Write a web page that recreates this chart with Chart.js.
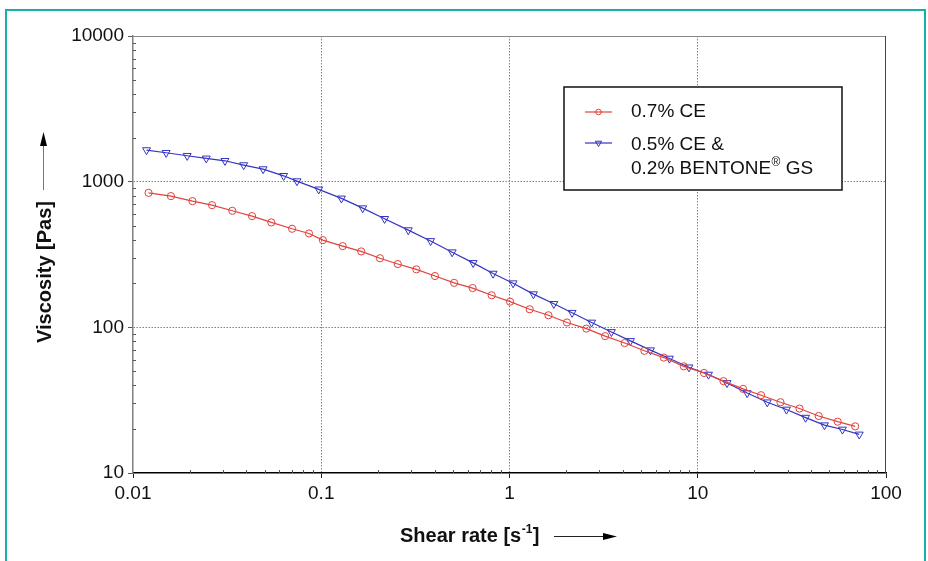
<!DOCTYPE html>
<html><head><meta charset="utf-8">
<script src="https://cdn.jsdelivr.net/npm/chart.js@4/dist/chart.umd.min.js"></script>
<style>
html,body{margin:0;padding:0;background:#fff;}
#wrap{position:relative;width:928px;height:561px;overflow:hidden;}
#frame{position:absolute;left:5px;top:9px;width:921px;height:580px;box-sizing:border-box;border:2.5px solid #16b0a5;pointer-events:none;}
canvas{position:absolute;left:0;top:0;}
</style></head><body>
<div id="wrap"><canvas id="c" width="928" height="561"></canvas><div id="frame"></div></div>
<script>
const FONT = "'Liberation Sans', Arial, Helvetica, sans-serif";

const seriesNames = ["0.7% CE", "0.5% CE &", "0.2% BENTONE", "®", " GS"];
const xTitle = ["Shear rate [s", "-1", "]"];
const yTitle = "Viscosity [Pas]";

const xTicks = [0.01, 0.1, 1, 10, 100];
const yTicks = [10, 100, 1000, 10000];

const shearRed = [0.0121,0.0159,0.0207,0.0263,0.0337,0.0429,0.0543,0.0700,0.0861,0.102,0.130,0.163,0.205,0.255,0.320,0.402,0.508,0.637,0.804,1.007,1.28,1.61,2.02,2.56,3.22,4.09,5.21,6.60,8.43,10.8,13.7,17.4,21.7,27.5,34.7,43.9,55.4,68.6];
const viscRed = [838,796,735,690,631,580,525,475,441,397,361,332,298,272,250,225,202,186,166,150,133,121,108,98,87,78,69,62,54,48.6,42.7,37.8,34.2,30.6,27.7,24.6,22.5,20.9];

const shearBlue = [0.0118,0.0150,0.0194,0.0245,0.0308,0.0387,0.0491,0.0631,0.0743,0.0969,0.128,0.166,0.217,0.290,0.381,0.496,0.641,0.818,1.045,1.34,1.72,2.15,2.73,3.48,4.39,5.61,7.07,8.98,11.4,14.3,18.3,23.4,29.6,37.4,47.1,58.7,72.1];
const viscBlue = [1648,1579,1506,1445,1391,1300,1220,1097,1009,886,768,658,556,465,392,328,277,234,201,169,145,126,108,93,80.7,69.7,61.1,53.2,47.4,41.5,35.4,30.6,27.3,24.0,21.3,19.9,18.4];

const RED = '#e3423c';
const BLUE = '#3434c2';

function pts(xs, ys){ return xs.map((x,i)=>({x:x, y:ys[i]})); }

function drawMarker(ctx, style, x, y, r, color){
  ctx.save();
  ctx.strokeStyle = color; ctx.lineWidth = 1;
  ctx.beginPath();
  if (style === 'circle') {
    ctx.arc(x, y, r, 0, Math.PI*2);
  } else {
    for (let i=0;i<3;i++){
      const a = Math.PI + i*2*Math.PI/3;
      const px = x + Math.sin(a)*r, py = y - Math.cos(a)*r;
      if (i===0) ctx.moveTo(px,py); else ctx.lineTo(px,py);
    }
    ctx.closePath();
  }
  ctx.stroke();
  ctx.restore();
}

const decorPlugin = {
  id: 'decor',
  beforeDraw(chart){
    const ctx = chart.ctx;
    ctx.save(); ctx.fillStyle = '#fff'; ctx.fillRect(0,0,chart.width,chart.height); ctx.restore();
  },
  afterDraw(chart){
    const ctx = chart.ctx;
    const a = chart.chartArea;
    const xs = chart.scales.x, ys = chart.scales.y;
    ctx.save();
    ctx.lineWidth = 1;
    ctx.strokeStyle = '#888';
    ctx.beginPath(); ctx.moveTo(a.left, a.top+0.5); ctx.lineTo(a.right, a.top+0.5); ctx.stroke();
    ctx.strokeStyle = '#444';
    ctx.beginPath(); ctx.moveTo(a.right-0.5, a.top); ctx.lineTo(a.right-0.5, a.bottom); ctx.stroke();
    ctx.strokeStyle = '#555';
    for (let i=0;i<xTicks.length-1;i++){
      for (let k=2;k<=9;k++){
        const px = Math.round(xs.getPixelForValue(xTicks[i]*k))+0.5;
        ctx.beginPath(); ctx.moveTo(px, a.bottom); ctx.lineTo(px, a.bottom-3); ctx.stroke();
      }
    }
    for (let i=0;i<yTicks.length-1;i++){
      for (let k=2;k<=9;k++){
        const py = Math.round(ys.getPixelForValue(yTicks[i]*k))+0.5;
        ctx.beginPath(); ctx.moveTo(a.left, py); ctx.lineTo(a.left+3, py); ctx.stroke();
      }
    }
    const bx = 564, by = 87, bw = 278, bh = 103;
    ctx.fillStyle = '#fff';
    ctx.fillRect(bx, by, bw, bh);
    ctx.strokeStyle = '#111'; ctx.lineWidth = 1.5;
    ctx.strokeRect(bx, by, bw, bh);
    const dsets = chart.data.datasets;
    const rows = [112, 143];
    dsets.forEach((d, i)=>{
      const y = rows[i];
      ctx.strokeStyle = d.borderColor; ctx.lineWidth = 1.2;
      ctx.beginPath(); ctx.moveTo(585, y); ctx.lineTo(612, y); ctx.stroke();
      drawMarker(ctx, d.pointStyle, 598.5, y, i===0 ? 2.8 : 3.6, d.borderColor);
    });
    ctx.fillStyle = '#111';
    ctx.font = '19px ' + FONT;
    ctx.textBaseline = 'middle'; ctx.textAlign = 'left';
    ctx.fillText(seriesNames[0], 631, 112);
    ctx.fillText(seriesNames[1], 631, 145);
    ctx.fillText(seriesNames[2], 631, 169);
    let w = ctx.measureText(seriesNames[2]).width;
    ctx.font = '12px ' + FONT;
    ctx.fillText(seriesNames[3], 631 + w + 0.5, 163);
    const w2 = ctx.measureText(seriesNames[3]).width;
    ctx.font = '19px ' + FONT;
    ctx.fillText(seriesNames[4], 631 + w + w2 + 0.5, 169);

    ctx.font = 'bold 20px ' + FONT;
    ctx.fillStyle = '#111';
    let tx = 400, ty = 536;
    ctx.fillText(xTitle[0], tx, ty);
    tx += ctx.measureText(xTitle[0]).width;
    ctx.font = 'bold 12px ' + FONT;
    ctx.fillText(xTitle[1], tx + 0.5, ty - 6);
    tx += ctx.measureText(xTitle[1]).width + 1;
    ctx.font = 'bold 20px ' + FONT;
    ctx.fillText(xTitle[2], tx, ty);
    ctx.strokeStyle = '#222'; ctx.lineWidth = 1;
    ctx.beginPath(); ctx.moveTo(554, 536.5); ctx.lineTo(606, 536.5); ctx.stroke();
    ctx.fillStyle = '#000';
    ctx.beginPath(); ctx.moveTo(617, 536.5); ctx.lineTo(603, 533); ctx.lineTo(603, 540); ctx.closePath(); ctx.fill();

    ctx.save();
    ctx.translate(45, 272);
    ctx.rotate(-Math.PI/2);
    ctx.textAlign = 'center';
    ctx.font = 'bold 20px ' + FONT;
    ctx.fillStyle = '#111';
    ctx.fillText(yTitle, 0, 0);
    ctx.restore();
    ctx.strokeStyle = '#777'; ctx.lineWidth = 1;
    ctx.beginPath(); ctx.moveTo(43.5, 190); ctx.lineTo(43.5, 143); ctx.stroke();
    ctx.fillStyle = '#000';
    ctx.beginPath(); ctx.moveTo(43.5, 132); ctx.lineTo(40, 146); ctx.lineTo(47, 146); ctx.closePath(); ctx.fill();
    ctx.restore();
  }
};

function gridColor(edges){
  return (c) => (c.tick && edges.includes(c.tick.value)) ? 'rgba(0,0,0,0)' : '#808080';
}

new Chart(document.getElementById('c'), {
  type: 'scatter',
  data: {
    datasets: [
      { label: seriesNames[0], data: pts(shearRed, viscRed), showLine: true,
        borderColor: RED, backgroundColor: 'rgba(0,0,0,0)', borderWidth: 1.2,
        pointStyle: 'circle', pointRadius: 3.6, pointBorderWidth: 1, pointBorderColor: RED,
        pointBackgroundColor: 'rgba(0,0,0,0)', tension: 0 },
      { label: seriesNames[1] + ' ' + seriesNames[2] + seriesNames[3] + seriesNames[4], data: pts(shearBlue, viscBlue), showLine: true,
        borderColor: BLUE, backgroundColor: 'rgba(0,0,0,0)', borderWidth: 1.2,
        pointStyle: 'triangle', rotation: 180, pointRadius: 4.6, pointBorderWidth: 1, pointBorderColor: BLUE,
        pointBackgroundColor: 'rgba(0,0,0,0)', tension: 0 }
    ]
  },
  options: {
    responsive: false,
    animation: false,
    devicePixelRatio: 1,
    layout: { padding: { left: 0, right: 42, top: 36, bottom: 0 } },
    plugins: { legend: { display: false }, tooltip: { enabled: false } },
    scales: {
      x: {
        type: 'logarithmic', min: 0.01, max: 100,
        afterBuildTicks: s => { s.ticks = xTicks.map(v => ({ value: v, major: true })); },
        afterFit: s => { s.height = 88; },
        ticks: { callback: v => String(v), font: { family: FONT, size: 19 }, color: '#111', padding: 4, maxRotation: 0, autoSkip: false },
        grid: { color: gridColor([0.01, 100]), lineWidth: 1, tickLength: 5, tickColor: '#222', drawTicks: true },
        border: { color: '#000', width: 1.5, dash: [1.5, 1.5] }
      },
      y: {
        type: 'logarithmic', min: 10, max: 10000,
        afterBuildTicks: s => { s.ticks = yTicks.map(v => ({ value: v, major: true })); },
        afterFit: s => { s.width = 133; },
        ticks: { callback: v => String(v), font: { family: FONT, size: 19 }, color: '#111', padding: 4, autoSkip: false },
        grid: { color: gridColor([10, 10000]), lineWidth: 1, tickLength: 5, tickColor: '#555', drawTicks: true },
        border: { color: '#808080', width: 1.5, dash: [1.5, 1.5] }
      }
    }
  },
  plugins: [decorPlugin]
});
</script>
</body></html>
